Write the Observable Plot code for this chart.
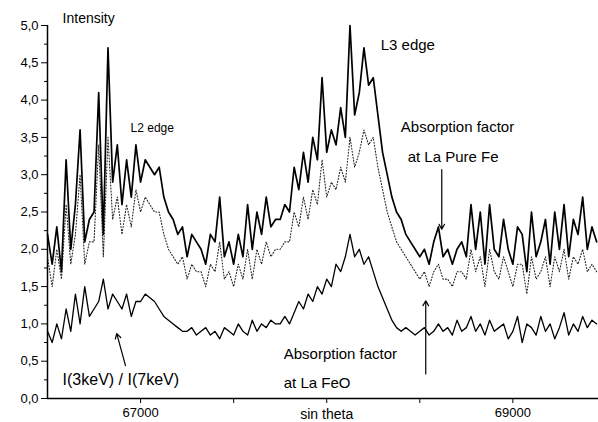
<!DOCTYPE html>
<html><head><meta charset="utf-8">
<script src="https://cdn.jsdelivr.net/npm/d3@7"></script>
<script src="https://cdn.jsdelivr.net/npm/@observablehq/plot@0.6"></script>
<style>body{margin:0;background:#fff;font-family:Arial,"Liberation Sans",sans-serif}</style>
</head><body><div id="chart"></div>
<script>
const xStart = 66500, xStep = 25;
const pureFe = [2.2,1.8,2.3,1.7,3.2,2.0,2.6,3.6,2.1,2.4, 2.5,4.1,2.2,4.7,2.9,3.4,2.6,3.2,2.7,3.4,
 2.9,3.2,3.1,3.0,3.1,2.7,2.5,2.4,2.2,2.3, 1.9,2.2,2.1,2.0,1.8,2.2,2.1,2.7,1.9,2.1,
 1.8,2.2,1.9,2.6,2.0,2.5,2.2,2.7,2.3,2.4, 2.4,2.6,2.5,3.1,2.8,3.3,2.9,3.5,3.2,4.3,
 3.3,3.6,3.4,3.9,3.5,5.0,3.8,4.1,4.7,4.2, 4.3,3.8,3.3,3.0,2.7,2.5,2.4,2.2,2.1,2.0,
 1.9,2.0,1.8,2.1,2.3,1.9,2.0,1.8,2.0,2.1, 1.9,2.6,2.0,2.5,1.8,2.6,2.0,1.9,2.4,2.0,
 1.8,2.3,2.2,1.7,2.5,1.9,2.1,2.4,1.8,2.5, 2.0,2.6,1.9,2.4,2.2,2.7,2.0,2.3,2.1];
const dotted = [1.9,1.5,2.0,1.6,2.6,1.8,2.2,3.0,1.8,2.1, 2.1,3.4,1.9,3.5,2.4,2.7,2.2,2.6,2.3,2.8,
 2.5,2.7,2.6,2.5,2.5,2.2,2.0,1.9,1.8,1.9, 1.6,1.8,1.7,1.7,1.5,1.8,1.7,2.1,1.6,1.7,
 1.5,1.8,1.6,2.0,1.6,2.0,1.8,2.1,1.9,2.0, 2.0,2.1,2.1,2.5,2.3,2.7,2.4,2.8,2.6,3.2,
 2.7,2.9,2.8,3.1,2.9,3.5,3.1,3.3,3.6,3.4, 3.5,3.1,2.8,2.5,2.3,2.1,2.0,1.9,1.8,1.7,
 1.6,1.7,1.5,1.7,1.8,1.6,1.6,1.5,1.7,1.7, 1.6,2.0,1.7,1.9,1.5,2.0,1.7,1.6,1.9,1.7,
 1.5,1.8,1.8,1.4,1.9,1.6,1.7,1.9,1.5,1.9, 1.7,2.0,1.6,1.9,1.8,2.0,1.7,1.8,1.7];
const ratio = [0.9,0.75,1.0,0.8,1.2,0.9,1.4,1.0,1.5,1.1, 1.2,1.3,1.6,1.2,1.4,1.3,1.2,1.4,1.1,1.3,
 1.3,1.4,1.35,1.3,1.2,1.1,1.05,1.0,0.95,0.9, 0.9,0.95,0.85,0.9,0.95,0.85,0.9,0.8,0.95,0.9,
 0.85,1.0,0.9,0.85,1.05,0.9,1.0,0.95,1.05,1.0, 1.0,1.1,1.0,1.15,1.3,1.2,1.4,1.3,1.5,1.4,
 1.6,1.5,1.8,1.7,1.9,2.2,1.9,2.0,1.8,1.9, 1.7,1.5,1.35,1.2,1.05,0.95,0.9,0.95,0.9,0.85,
 0.9,0.95,0.85,0.9,1.0,0.9,0.95,0.85,1.05,0.9, 0.95,1.1,0.9,1.0,0.85,1.05,0.9,0.95,1.0,0.8,
 0.9,1.1,0.75,1.0,0.95,0.85,1.1,0.9,1.0,0.8, 0.95,1.15,0.85,1.0,0.9,1.1,0.95,1.05,1.0];
const xTicks = [67000,67500,68000,68500,69000];
const xTickLabels = {67000:"67000",69000:"69000"};
const yTicks = [0,0.5,1,1.5,2,2.5,3,3.5,4,4.5,5];
const yMinor = [0.25,0.75,1.25,1.75,2.25,2.75,3.25,3.75,4.25,4.75];
const labels = [
 {x:66581,y:5.1,t:"Intensity",s:14},
 {x:66946,y:3.63,t:"L2 edge",s:12},
 {x:68290,y:4.73,t:"L3 edge",s:15},
 {x:68398,y:3.64,t:"Absorption factor",s:15},
 {x:68435,y:3.24,t:"at La Pure Fe",s:15},
 {x:66581,y:0.25,t:"I(3keV) / I(7keV)",s:16},
 {x:67769,y:0.59,t:"Absorption factor",s:15},
 {x:67769,y:0.2,t:"at La FeO",s:15}
];
const arrows = [
 {x1:68618,y1:3.07,x2:68618,y2:2.27},
 {x1:66919,y1:0.44,x2:66872,y2:0.87},
 {x1:68532,y1:0.33,x2:68532,y2:1.31}
];
const toRows = v => v.map((y,i)=>({x:xStart+i*xStep,y}));
const fmt = d => d.toFixed(1).replace(".",",");
const chart = Plot.plot({
  width:598, height:422, marginLeft:47, marginRight:0, marginTop:25, marginBottom:24,
  style:{fontFamily:"Arial, 'Liberation Sans', sans-serif", fontSize:"12px", color:"#000"},
  x:{domain:[66500,69460]}, y:{domain:[0,5]},
  marks:[
    Plot.axisY({ticks:yTicks, tickFormat:fmt, tickSize:6, fontSize:13, label:null}),
    Plot.axisY({ticks:yMinor, tickFormat:()=> "", tickSize:3, label:null}),
    Plot.axisX({ticks:xTicks, tickFormat:d=>xTickLabels[d]||"", tickSize:5, fontSize:13, label:null}),
    Plot.text(["sin theta"],{frameAnchor:"bottom", x:68000, dy:20, fontSize:14}),
    Plot.ruleY([0],{strokeWidth:1.5}), Plot.ruleX([66500],{strokeWidth:1.5}),
    Plot.line(toRows(dotted),{x:"x",y:"y",stroke:"#222",strokeWidth:1.1,strokeDasharray:"1,2"}),
    Plot.line(toRows(pureFe),{x:"x",y:"y",stroke:"#000",strokeWidth:1.7}),
    Plot.line(toRows(ratio),{x:"x",y:"y",stroke:"#000",strokeWidth:1.3}),
    Plot.arrow(arrows,{x1:"x1",y1:"y1",x2:"x2",y2:"y2",stroke:"#000",strokeWidth:1.2,headLength:7}),
    Plot.text(labels,{x:"x",y:"y",text:"t",fontSize:d=>d.s,textAnchor:"start",fill:"#000",clip:false})
  ]
});
document.getElementById("chart").append(chart);
</script></body></html>
